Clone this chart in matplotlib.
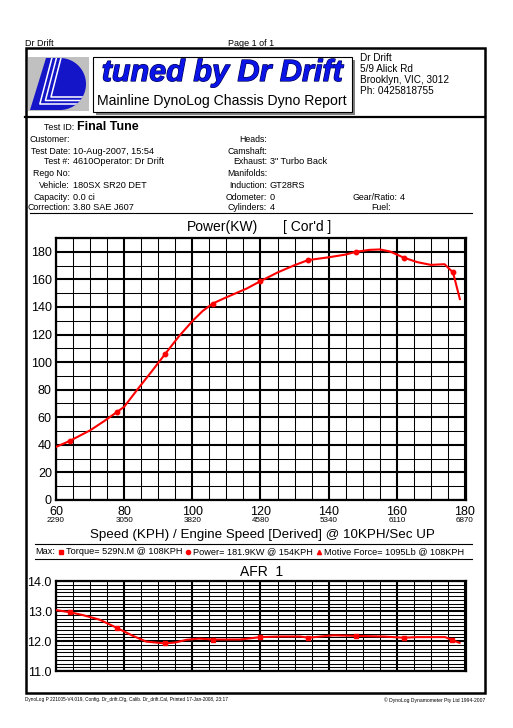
import numpy as np
import matplotlib
matplotlib.use("Agg")
import matplotlib.pyplot as plt
from matplotlib.patches import Rectangle, Polygon
from matplotlib.ticker import MultipleLocator
import matplotlib.patheffects as pe

plt.rcParams['font.family'] = ['Liberation Sans', 'DejaVu Sans']

W, H = 513, 728

# power run (corrected)
speed_kph = [60, 64, 70, 74, 78, 80, 84, 88, 92, 96, 100, 103, 106, 110, 116, 120,
             125, 130, 134, 140, 145, 148, 152, 155, 158, 162, 166, 170, 174, 176.5, 178.5]
power_kw = [38.5, 42.8, 50.5, 57, 64, 67.6, 80.5, 93, 105.8, 118.5, 129.7, 137, 142.5, 147, 153.4, 158.7,
            165, 170.3, 174, 176, 178, 180, 181.4, 181.7, 180.2, 175.8, 172.5, 170.5, 171, 165, 145.7]
power_marks = [64, 78, 92, 106, 120, 134, 148, 162, 176.5]

# air fuel ratio
afr_kph = [60, 64, 68, 72.8, 78, 82.6, 86.5, 92, 95, 98.3, 102, 106, 114, 120, 126, 131.6,
           134, 141.4, 148, 156, 162, 166, 170, 174.2, 176.2, 178.4]
afr_val = [13.03, 12.96, 12.86, 12.71, 12.43, 12.17, 11.98, 11.92, 11.95, 12.04, 12.08, 12.05, 12.05, 12.13,
           12.15, 12.15, 12.11, 12.19, 12.17, 12.15, 12.11, 12.13, 12.13, 12.13, 12.03, 11.94]
afr_marks = [64, 78, 92, 106, 120, 134, 148, 162, 176.2]

speed_ticks = [60, 80, 100, 120, 140, 160, 180]
rpm_labels = ['2290', '3050', '3820', '4580', '5340', '6110', '6870']
power_ticks = [0, 20, 40, 60, 80, 100, 120, 140, 160, 180]
afr_ticks = [11.0, 12.0, 13.0, 14.0]

left_labels = ['Customer:', 'Test Date:', 'Test #:', 'Rego No:', 'Vehicle:', 'Capacity:', 'Correction:']
left_values = ['', '10-Aug-2007, 15:54', '4610Operator: Dr Drift', '', '180SX SR20 DET', '0.0 ci', '3.80 SAE J607']
mid_labels = ['Heads:', 'Camshaft:', 'Exhaust:', 'Manifolds:', 'Induction:', 'Odometer:', 'Cylinders:']
mid_values = ['', '', '3" Turbo Back', '', 'GT28RS', '0', '4']
row_y = [139, 151, 162, 173, 185, 197, 208]

fig = plt.figure(figsize=(W / 100, H / 100), dpi=100)
fig.patch.set_facecolor('white')

# page decoration in pixel coords
deco = fig.add_axes([0, 0, 1, 1])
deco.set_xlim(0, W)
deco.set_ylim(H, 0)
deco.axis('off')

deco.text(25, 43, 'Dr Drift', fontsize=6.5, va='center')
deco.text(251, 43, 'Page 1 of 1', fontsize=6.5, va='center', ha='center')
deco.add_patch(Rectangle((25.5, 48), 459, 645, fill=False, lw=1.8, ec='black'))
deco.plot([25, 485], [117, 117], color='black', lw=1.6)

# logo
deco.add_patch(Rectangle((28, 57), 61, 54, color='#c0c0c0', lw=0))
t = np.linspace(-np.pi / 2, np.pi / 2, 40)
d_pts = [(30, 110), (46, 58)] + list(zip(60 + 26 * np.cos(t), 84 + 26 * np.sin(t)))
d_shape = Polygon(d_pts, closed=True, color='#1414c8', lw=0)
deco.add_patch(d_shape)
for k in range(3):
    x0 = 54 + 4.5 * k
    yc = 104 - 3.5 * k
    xc = x0 - 16 * (yc - 58) / 52
    ln, = deco.plot([x0, xc, 95], [50, yc, yc], color='white', lw=1.1)
    ln.set_clip_path(d_shape)

# title box
deco.add_patch(Rectangle((96, 60), 259, 55, color='#808080', lw=0))
deco.add_patch(Rectangle((93, 57), 259, 55, fc='white', ec='black', lw=0.8))
deco.text(222, 73, 'tuned by Dr Drift', fontsize=22, fontweight='bold', fontstyle='italic',
          color='#0a14e6', ha='center', va='center',
          path_effects=[pe.withStroke(linewidth=0.9, foreground='#000050')])
deco.text(222, 101, 'Mainline DynoLog Chassis Dyno Report', fontsize=10.1, ha='center', va='center')
for i, s in enumerate(['Dr Drift', '5/9 Alick Rd', 'Brooklyn, VIC, 3012', 'Ph: 0425818755']):
    deco.text(360, 58 + 11 * i, s, fontsize=7.2, va='center')

# test details
deco.text(74, 128, 'Test ID:', fontsize=6.4, ha='right', va='center')
deco.text(77, 127.5, 'Final Tune', fontsize=9, fontweight='bold', va='center')
for y, lab, val, mlab, mval in zip(row_y, left_labels, left_values, mid_labels, mid_values):
    deco.text(70, y, lab, fontsize=6.3, ha='right', va='center')
    deco.text(73, y, val, fontsize=6.6, va='center')
    deco.text(267, y, mlab, fontsize=6.3, ha='right', va='center')
    deco.text(270, y, mval, fontsize=6.6, va='center')
deco.text(397, row_y[5], 'Gear/Ratio:', fontsize=6.3, ha='right', va='center')
deco.text(400, row_y[5], '4', fontsize=6.6, va='center')
deco.text(391, row_y[6], 'Fuel:', fontsize=6.3, ha='right', va='center')
deco.plot([30, 472], [212.5, 212.5], color='black', lw=0.8)

# power chart headings
deco.text(223, 227.5, 'Power(KW)', fontsize=10, ha='center', va='center')
deco.text(307, 227.5, "[ Cor'd ]", fontsize=10, ha='center', va='center')
deco.text(262, 535, 'Speed (KPH) / Engine Speed [Derived] @ 10KPH/Sec UP', fontsize=9.6,
          ha='center', va='center')

# max summary line
deco.plot([35, 472], [543.5, 543.5], color='black', lw=0.8)
deco.plot([35, 472], [559, 559], color='black', lw=0.8)
txt = deco.text(35, 552, 'Max:', fontsize=6.6, va='center')
pieces = [('s', 'Torque= 529N.M @ 108KPH'), ('o', 'Power= 181.9KW @ 154KPH'),
          ('^', 'Motive Force= 1095Lb @ 108KPH')]
for mk, s in pieces:
    fig.canvas.draw()
    bb = txt.get_window_extent().transformed(deco.transData.inverted())
    xm = bb.x1 + 6
    deco.plot([xm], [552], marker=mk, color='red', ms=3.0, mec='red')
    txt = deco.text(xm + 5, 552, s, fontsize=6.6, va='center')

deco.text(262, 571.5, 'AFR  1', fontsize=10, ha='center', va='center')

# footer
deco.text(25, 700, 'DynoLog P 221005-V4.019, Config. Dr_drift.Cfg, Calib. Dr_drift.Cal, Printed 17-Jan-2008, 23:17',
          fontsize=3.4, va='center')
deco.text(485, 700, '\u00a9 DynoLog Dynamometer Pty Ltd 1994-2007', fontsize=3.6, va='center', ha='right')


def grid_axes(ax):
    ax.set_axisbelow(True)
    ax.grid(which='major', color='black', lw=1.5)
    ax.grid(which='minor', color='black', lw=0.75)
    ax.tick_params(which='both', length=0)
    for sp in ax.spines.values():
        sp.set_linewidth(1.6)
    ax.xaxis.set_minor_locator(MultipleLocator(5))


# power axes
ax = fig.add_axes([56 / W, 1 - 500 / H, 410 / W, 262 / H])
ax.set_xlim(60, 180.3)
ax.set_ylim(0, 190)
ax.set_xticks(speed_ticks)
ax.set_xticklabels([str(s) for s in speed_ticks])
ax.set_yticks(power_ticks)
ax.yaxis.set_minor_locator(MultipleLocator(10))
grid_axes(ax)
ax.tick_params(axis='y', labelsize=9, pad=3)
ax.tick_params(axis='x', labelsize=9, pad=4)
for s, r in zip(speed_ticks, rpm_labels):
    ax.annotate(r, xy=(s, 0), xycoords=('data', 'axes fraction'), xytext=(0, -21 * 0.72),
                textcoords='offset points', ha='center', va='center', fontsize=5.8)
pidx = [speed_kph.index(v) for v in power_marks]
ax.plot(speed_kph, power_kw, color='red', lw=1.5, marker='o', ms=3.2, markevery=pidx, zorder=5)

# AFR axes
ax2 = fig.add_axes([56 / W, 1 - 671 / H, 410 / W, 90 / H])
ax2.set_xlim(60, 180.3)
ax2.set_ylim(11, 14)
ax2.set_xticks(speed_ticks)
ax2.set_xticklabels([])
ax2.set_yticks(afr_ticks)
ax2.set_yticklabels(['%.1f' % v for v in afr_ticks])
ax2.yaxis.set_minor_locator(MultipleLocator(0.125))
grid_axes(ax2)
ax2.tick_params(labelsize=9, pad=3)
aidx = [afr_kph.index(v) for v in afr_marks]
ax2.plot(afr_kph, afr_val, color='red', lw=1.5, marker='s', ms=3.0, markevery=aidx, zorder=5)

fig.savefig('out.png', dpi=100)
